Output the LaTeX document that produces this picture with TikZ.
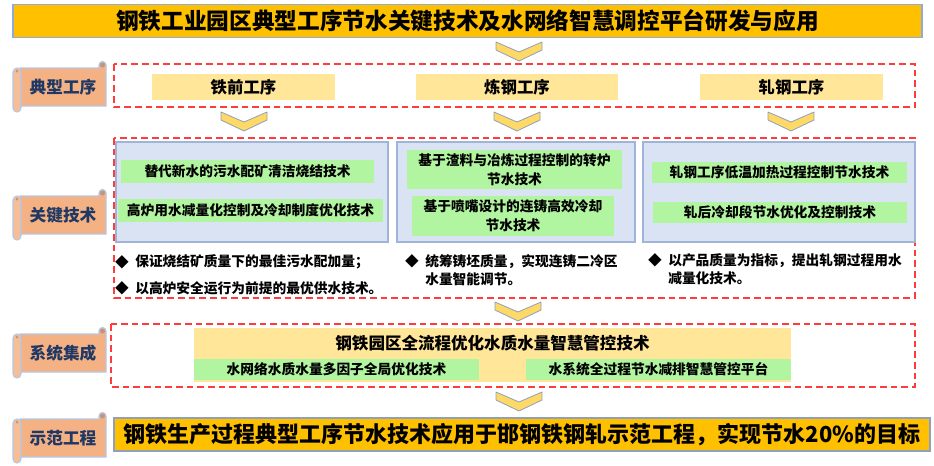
\documentclass[tikz,border=0pt]{standalone}
\usepackage{fontspec}
\setmainfont{Noto Sans CJK SC}
\usetikzlibrary{positioning}

\definecolor{titleorange}{RGB}{255,192,0}
\definecolor{titleedge}{RGB}{143,170,220}
\definecolor{stepyellow}{RGB}{255,230,153}
\definecolor{techgreen}{RGB}{178,245,160}
\definecolor{panelblue}{RGB}{218,227,243}
\definecolor{paneledge}{RGB}{160,180,215}
\definecolor{dashred}{RGB}{255,60,60}
\definecolor{scrollfill}{RGB}{244,177,131}
\definecolor{scrollroll}{RGB}{246,190,150}
\definecolor{scrolledge}{RGB}{180,199,231}
\definecolor{scrollcurl}{RGB}{190,150,130}
\definecolor{scrolltext}{RGB}{31,56,100}
\definecolor{chevfill}{RGB}{255,217,102}
\definecolor{chevedge}{RGB}{142,160,190}

\newcommand{\pxu}{0.75pt}

\tikzset{
  bar/.style={draw=titleedge, line width=1.2pt, fill=titleorange, inner sep=0pt},
  frame/.style={draw=dashred, line width=1.2pt, dash pattern=on 5pt off 3pt},
  stepbox/.style={fill=stepyellow, inner sep=0pt, font=\bfseries\fontsize{12.3}{14}\selectfont},
  panel/.style={fill=panelblue, draw=paneledge, line width=1pt},
  techbox/.style={fill=techgreen, inner sep=0pt, align=center, font=\bfseries\fontsize{10.3}{14}\selectfont},
  bullettext/.style={inner sep=0pt, align=left, font=\bfseries\fontsize{10.3}{13.5}\selectfont},
  scroll/.style={fill=scrollfill, draw=scrolledge, line width=0.8pt},
  labeltext/.style={inner sep=0pt, text=scrolltext, font=\bfseries\fontsize{12.5}{14}\selectfont},
  chevron/.style={fill=chevfill, draw=chevedge, line width=0.6pt, line join=round}
}

% chevron pointing down: #1 = centre x, #2 = top y
\newcommand{\chevdown}[2]{%
  \draw [chevron] (#1-23,#2) -- (#1,#2+10) -- (#1+23,#2) -- (#1+23,#2+8)
    -- (#1,#2+19) -- (#1-23,#2+8) -- cycle;}

% scroll label on the left: #1 = name, #2 = top y, #3 = text
\newcommand{\scrolllabel}[3]{%
  \draw [scroll] (20,#2+6) -- (99,#2+6) -- (99,#2+3) arc (180:360:3.5)
    -- (106,#2+44) -- (20,#2+44) -- cycle;
  \draw [scroll, fill=scrollroll, rounded corners=3pt] (13,#2+6) rectangle (21,#2+50);
  \fill [scrollcurl] (102.5,#2+3) circle (2.5);
  \fill [scrollcurl] (17,#2+9) circle (1.5);
  \node [labeltext] at (63,#2+25) (#1) {#3};}

\begin{document}
\begin{tikzpicture}[x=0.75pt, y=-0.75pt]
    \useasboundingbox (0,0) rectangle (934,465);

    % title
    \node [bar, minimum width=909*\pxu, minimum height=33*\pxu,
           font=\bfseries\fontsize{17}{19}\selectfont] at (467.5,21) (title)
          {钢铁工业园区典型工序节水关键技术及水网络智慧调控平台研发与应用};
    \chevdown{519}{42}

    % typical processes
    \scrolllabel{lblproc}{62}{典型工序}
    \draw [frame] (114,64) rectangle (915,107);
    \node [stepbox, minimum width=183*\pxu, minimum height=26*\pxu] at (243.5,87) (iron) {铁前工序};
    \node [stepbox, minimum width=202*\pxu, minimum height=26*\pxu] at (517,87) (steel) {炼钢工序};
    \node [stepbox, minimum width=183*\pxu, minimum height=26*\pxu] at (791.5,87) (roll) {轧钢工序};
    \chevdown{244}{112}
    \chevdown{517}{112}
    \chevdown{791}{112}

    % key technologies
    \scrolllabel{lbltech}{190}{关键技术}
    \draw [frame] (114,138) rectangle (915,298);
    \draw [panel] (116,142) rectangle (388,242);
    \draw [panel] (397,142) rectangle (635,242);
    \draw [panel] (643,142) rectangle (915,242);

    \node [techbox, minimum width=253*\pxu, minimum height=23*\pxu] at (247.5,171.5) (ironA) {替代新水的污水配矿清洁烧结技术};
    \node [techbox, minimum width=265*\pxu, minimum height=23*\pxu] at (250.5,210.5) (ironB) {高炉用水减量化控制及冷却制度优化技术};
    \node [techbox, minimum width=215*\pxu, minimum height=39*\pxu] at (514.5,169.5) (steelA) {基于渣料与冶炼过程控制的转炉\\节水技术};
    \node [techbox, minimum width=202*\pxu, minimum height=40*\pxu] at (513,216) (steelB) {基于喷嘴设计的连铸高效冷却\\节水技术};
    \node [techbox, minimum width=255*\pxu, minimum height=21*\pxu] at (779.5,172.5) (rollA) {轧钢工序低温加热过程控制节水技术};
    \node [techbox, minimum width=254*\pxu, minimum height=21*\pxu] at (780,212.5) (rollB) {轧后冷却段节水优化及控制技术};

    \node [bullettext] at (122,262) (ironD1) {◆};
    \node [bullettext, anchor=west] at (135,262) (ironT1) {保证烧结矿质量下的最佳污水配加量；};
    \node [bullettext] at (122,288) (ironD2) {◆};
    \node [bullettext, anchor=west] at (135,288) (ironT2) {以高炉安全运行为前提的最优供水技术。};
    \node [bullettext] at (412,261) (steelD) {◆};
    \node [bullettext, anchor=west] at (425,270) (steelT) {统筹铸坯质量，实现连铸二冷区\\水量智能调节。};
    \node [bullettext] at (655,260) (rollD) {◆};
    \node [bullettext, anchor=west] at (668,269.5) (rollT) {以产品质量为指标，提出轧钢过程用水\\减量化技术。};
    \chevdown{518}{302}

    % system integration
    \scrolllabel{lblsys}{328}{系统集成}
    \draw [frame] (111,324) rectangle (915,387);
    \node [stepbox, minimum width=597*\pxu, minimum height=54*\pxu] at (492.5,355) (platform) {};
    \node [inner sep=0pt, font=\bfseries\fontsize{12.4}{14}\selectfont] at (492.5,343) (platformT)
          {钢铁园区全流程优化水质水量智慧管控技术};
    \node [techbox, minimum width=285*\pxu, minimum height=21*\pxu] at (336.5,369.5) (netopt) {水网络水质水量多因子全局优化技术};
    \node [techbox, minimum width=265*\pxu, minimum height=21*\pxu] at (658.5,369.5) (sysctl) {水系统全过程节水减排智慧管控平台};
    \chevdown{519}{392}

    % demonstration
    \scrolllabel{lbldemo}{413}{示范工程}
    \node [bar, draw=chevedge, minimum width=816*\pxu, minimum height=33*\pxu,
           font=\bfseries\fontsize{16.5}{19}\selectfont] at (522,434.5) (demo)
          {钢铁生产过程典型工序节水技术应用于邯钢铁钢轧示范工程，实现节水20\%的目标};
\end{tikzpicture}
\end{document}
